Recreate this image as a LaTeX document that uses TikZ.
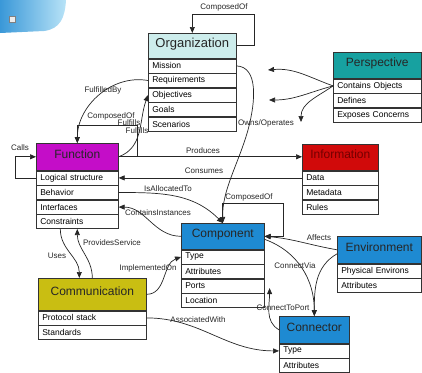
\documentclass[tikz,border=0pt]{standalone}
\usepackage{fontspec}
\setmainfont{Liberation Sans}
\usetikzlibrary{positioning,arrows.meta}

\definecolor{orgcol}{HTML}{CDEDEC}
\definecolor{percol}{HTML}{17A1A0}
\definecolor{funcol}{HTML}{C40DC8}
\definecolor{infcol}{HTML}{D10A0A}
\definecolor{blucol}{HTML}{1E8AD2}
\definecolor{cmmcol}{HTML}{C9BE12}
\definecolor{artA}{HTML}{3A98D8}
\definecolor{artB}{HTML}{B8E3F7}

\tikzset{
	hdr/.style={draw=black!80, line width=0.6pt, fill=#1, anchor=north west, inner sep=0pt,
		text height=9pt, text depth=6pt, text=black!85, font=\fontsize{12}{14}\selectfont},
	row/.style={draw=black!80, line width=0.6pt, fill=white, inner xsep=4pt, inner ysep=0pt,
		minimum height=14pt, text width=#1, align=left, font=\fontsize{8.5}{10}\selectfont},
	rel/.style={draw=black!85, line width=0.7pt, -{Triangle[length=6pt,width=5pt]}},
	lbl/.style={font=\fontsize{8}{9}\selectfont, inner sep=0.5pt, text=black!85},
}

\begin{document}
\begin{tikzpicture}[x=1pt, y=1pt]
	\useasboundingbox (0,0) rectangle (422,-372);
	%screen corner
	\shade[left color=artA, right color=artB] (0,0) -- (66,0) .. controls (65,-18) and (60,-29) .. (44,-31) -- (0,-33) -- cycle;
	\filldraw[fill=white!85!gray, draw=gray] (9,-16) rectangle (15,-22);

	%Organization 148-236
	\node[hdr=orgcol, minimum width=88pt, minimum height=25pt, font=\fontsize{13}{15}\selectfont] (org) at (148,-33) {Organization};
	\node[row=80pt, below=0pt of org] (org1) {Mission};
	\node[row=80pt, below=0pt of org1] (org2) {Requirements};
	\node[row=80pt, below=0pt of org2] (org3) {Objectives};
	\node[row=80pt, below=0pt of org3] (org4) {Goals};
	\node[row=80pt, below=0pt of org4] (org5) {Scenarios};
	%Perspective 333-421
	\node[hdr=percol, minimum width=88pt, minimum height=26pt] (per) at (333,-52) {Perspective};
	\node[row=80pt, below=0pt of per] (per1) {Contains Objects};
	\node[row=80pt, below=0pt of per1] (per2) {Defines};
	\node[row=80pt, below=0pt of per2] (per3) {Exposes Concerns};
	%Function 36-118
	\node[hdr=funcol, minimum width=82pt, minimum height=27pt] (fun) at (36,-143) {Function};
	\node[row=74pt, below=0pt of fun] (fun1) {Logical structure};
	\node[row=74pt, below=0pt of fun1] (fun2) {Behavior};
	\node[row=74pt, below=0pt of fun2] (fun3) {Interfaces};
	\node[row=74pt, below=0pt of fun3] (fun4) {Constraints};
	%Information 302-378
	\node[hdr=infcol, minimum width=76pt, minimum height=26pt, text=red!45!black] (inf) at (302,-144) {Information};
	\node[row=68pt, below=0pt of inf] (inf1) {Data};
	\node[row=68pt, below=0pt of inf1] (inf2) {Metadata};
	\node[row=68pt, below=0pt of inf2] (inf3) {Rules};
	%Component 181-264
	\node[hdr=blucol, minimum width=83pt, minimum height=26pt] (com) at (181,-223) {Component};
	\node[row=75pt, below=0pt of com] (com1) {Type};
	\node[row=75pt, below=0pt of com1] (com2) {Attributes};
	\node[row=75pt, below=0pt of com2] (com3) {Ports};
	\node[row=75pt, below=0pt of com3] (com4) {Location};
	%Environment 337-421
	\node[hdr=blucol, minimum width=84pt, minimum height=27pt] (env) at (337,-236) {Environment};
	\node[row=76pt, below=0pt of env] (env1) {Physical Environs};
	\node[row=76pt, below=0pt of env1] (env2) {Attributes};
	%Connector 279-349
	\node[hdr=blucol, minimum width=70pt, minimum height=27pt] (con) at (279,-316) {Connector};
	\node[row=62pt, below=0pt of con] (con1) {Type};
	\node[row=62pt, below=0pt of con1] (con2) {Attributes};
	%Communication 38-146
	\node[hdr=cmmcol, minimum width=108pt, minimum height=32pt] (cmm) at (38,-278) {Communication};
	\node[row=100pt, below=0pt of cmm] (cmm1) {Protocol stack};
	\node[row=100pt, below=0pt of cmm1] (cmm2) {Standards};

	%loose ends of the perspective arrows
	\coordinate (pe1) at (268,-70);
	\coordinate (pe2) at (269,-100);
	\coordinate (pe3) at (301,-122);

	%relations
	\draw[rel] (org.east) -| ++(18,31) -| (org.north);
	\draw[rel] (org2.west) to[out=170, in=90] (fun.north);
	\draw[rel] (fun.east) to[out=20, in=-110] (org3.west);
	\draw[rel] (fun.east) -| ++(19,31) -| (fun.north);
	\draw[rel] (fun1.west) -- ++(-21,0) |- (fun.west);
	\draw[rel] (fun.east) -- (fun.east -| inf.west);
	\draw[rel] (inf1.west) -- (fun1.east);
	\draw[rel] (fun2.east) to[out=0, in=135] (com.north);
	\draw[rel] (org1.east) .. controls (258,-67) and (256,-100) .. (248,-130) .. controls (238,-165) and (222,-190) .. (com.north);
	\draw[rel] (com.north) |- ++(60.5,20) |- (com.east);
	\draw[rel] (com.west) to[out=180, in=0] (fun3.east);
	\draw[rel] ([xshift=-17pt]fun4.south) to[out=-90, in=90] ([xshift=-13pt]cmm.north);
	\draw[rel] (cmm.north) to[out=90, in=-90] (fun4.south);
	\draw[rel] (cmm.east) to[out=0, in=200] (com1.west);
	\draw[rel] (cmm1.east) to[out=0, in=180] (con1.west);
	\draw[rel] (env.west) to[out=170, in=-5] (com.east);
	\draw[rel] ([yshift=-4pt]env.west) to[out=210, in=90] (con.north);
	\draw[rel] ([yshift=-3pt]com.east) to[out=-20, in=90] (con.north);
	\draw[rel] (con.west) to[out=150, in=-90] ([shift={(5pt,-2pt)}]com3.east);
	\draw[rel] (per1.west) to[out=160, in=5] (pe1);
	\draw[rel] (per1.west) to[out=195, in=0] (pe2);
	\draw[rel] (per1.west) to[out=215, in=90] (pe3);

	%labels
	\node[lbl] (lb-orgcomp) at (224,-7) {ComposedOf};
	\node[lbl] (lb-fulby) at (103,-90) {FulfilledBy};
	\node[lbl] (lb-funcomp) at (111,-116) {ComposedOf};
	\node[lbl] (lb-ful1) at (129,-123) {Fulfills};
	\node[lbl] (lb-ful2) at (137,-131) {Fulfills};
	\node[lbl] (lb-calls) at (20,-148) {Calls};
	\node[lbl] (lb-prod) at (203,-151) {Produces};
	\node[lbl] (lb-cons) at (204,-171) {Consumes};
	\node[lbl] (lb-alloc) at (168,-189) {IsAllocatedTo};
	\node[lbl] (lb-owns) at (266,-123) {Owns/Operates};
	\node[lbl] (lb-comcomp) at (249,-197) {ComposedOf};
	\node[lbl] (lb-inst) at (158,-213) {ContainsInstances};
	\node[lbl] (lb-uses) at (57,-256) {Uses};
	\node[lbl] (lb-serv) at (112,-243) {ProvidesService};
	\node[lbl] (lb-impl) at (148,-268) {ImplementedOn};
	\node[lbl] (lb-assoc) at (198,-320) {AssociatedWith};
	\node[lbl] (lb-aff) at (319,-238) {Affects};
	\node[lbl] (lb-via) at (295,-266) {ConnectVia};
	\node[lbl] (lb-port) at (283,-308) {ConnectToPort};
\end{tikzpicture}
\end{document}
